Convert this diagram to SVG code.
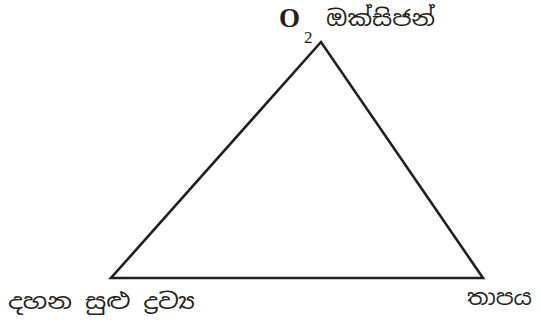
<svg xmlns="http://www.w3.org/2000/svg" width="541" height="325" viewBox="0 0 541 325">
<style>
.si{font-family:"Noto Sans Sinhala","Noto Serif Sinhala","Iskoola Pota","Lohit Sinhala","Liberation Sans",sans-serif;font-size:22px;fill:#231f20}
.edge{fill:none;stroke:#231f20;stroke-width:2.6;stroke-linejoin:miter}
</style>
<rect width="541" height="325" fill="#fff"/>
<g id="connectors">
<path class="edge" d="M321,42 L111,278 L483,278 Z"/>
</g>
<g id="oxygen">
<text x="279" y="27" style="font-family:'Liberation Serif',serif;font-weight:bold;font-size:27px;fill:#231f20">O</text>
<text x="304" y="43" style="font-family:'Liberation Serif',serif;font-size:17px;fill:#231f20">2</text>
<text class="si" x="326" y="26" textLength="109" lengthAdjust="spacingAndGlyphs">ඔක්සිජන්</text>
</g>
<g id="fuel">
<text class="si" x="8" y="309" textLength="187" lengthAdjust="spacingAndGlyphs">දහන සුළු ද්‍රව්‍ය</text>
</g>
<g id="heat">
<text class="si" x="467" y="305" textLength="65" lengthAdjust="spacingAndGlyphs">තාපය</text>
</g>
</svg>
